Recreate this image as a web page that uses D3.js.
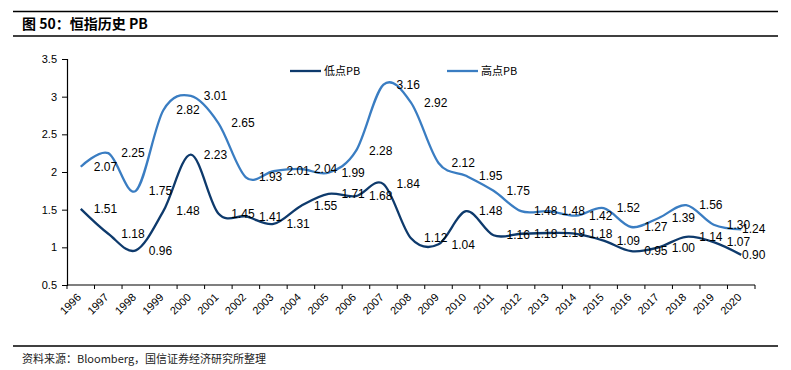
<!DOCTYPE html>
<html>
<head>
<meta charset="utf-8">
<script src="https://cdn.jsdelivr.net/npm/d3@7"></script>
<style>
  body { margin: 0; background: #fff; }
  svg text { font-family: Arial, "Liberation Sans", sans-serif; fill: #000; }
  .cjk { font-family: "Noto Sans CJK SC", sans-serif; }
</style>
</head>
<body>
<div id="chart"></div>
<script>
// 恒指历史 PB, 1996-2020
var years = ["1996","1997","1998","1999","2000","2001","2002","2003","2004","2005","2006","2007","2008",
  "2009","2010","2011","2012","2013","2014","2015","2016","2017","2018","2019","2020"];
var lowPB = [1.51, 1.18, 0.96, 1.48, 2.23, 1.45, 1.41, 1.31, 1.55, 1.71, 1.68, 1.84, 1.12,
  1.04, 1.48, 1.16, 1.18, 1.19, 1.18, 1.09, 0.95, 1.00, 1.14, 1.07, 0.90];
var highPB = [2.07, 2.25, 1.75, 2.82, 3.01, 2.65, 1.93, 2.01, 2.04, 1.99, 2.28, 3.16, 2.92,
  2.12, 1.95, 1.75, 1.48, 1.48, 1.42, 1.52, 1.27, 1.39, 1.56, 1.30, 1.24];
var yTicks = [0.5, 1, 1.5, 2, 2.5, 3, 3.5];

var CHART = {
  config: {
    width: 791,
    height: 370,
    plot: { left: 67, right: 755, top: 59, bottom: 285 },
    lowColor: "#0e3a6c",
    highColor: "#3a7dc2"
  },

  draw: function draw(sel) {
    var c = CHART.config, p = c.plot;
    var svg = d3.select(sel).append("svg")
        .attr("width", c.width)
        .attr("height", c.height);

    // title block and rules
    svg.append("line").attr("x1", 13).attr("x2", 778).attr("y1", 11.5).attr("y2", 11.5)
        .attr("stroke", "#000").attr("stroke-width", 1.3);
    svg.append("line").attr("x1", 13).attr("x2", 778).attr("y1", 36).attr("y2", 36)
        .attr("stroke", "#000").attr("stroke-width", 1.3);
    svg.append("text").attr("class", "cjk")
        .attr("x", 22).attr("y", 29)
        .style("font-size", "14px").style("font-weight", "bold")
        .text("图 50：恒指历史 PB");
    svg.append("line").attr("x1", 13).attr("x2", 778).attr("y1", 346).attr("y2", 346)
        .attr("stroke", "#000").attr("stroke-width", 1.3);
    svg.append("text").attr("class", "cjk")
        .attr("x", 22).attr("y", 363)
        .style("font-size", "11px").style("fill", "#222")
        .text("资料来源：Bloomberg，国信证券经济研究所整理");

    var x = d3.scaleBand().domain(years).range([p.left, p.right]);
    var y = d3.scaleLinear().domain([0.5, 3.5]).range([p.bottom, p.top]);
    var cx = function(i) { return x(years[i]) + x.bandwidth() / 2; };

    // y axis
    var yAxis = svg.append("g")
        .attr("transform", "translate(" + p.left + ",0)")
        .call(d3.axisLeft(y).tickValues(yTicks).tickSize(5).tickPadding(5).tickFormat(function(d) { return d; }));
    yAxis.select(".domain").attr("stroke", "#000").attr("stroke-width", 1.2);
    yAxis.selectAll(".tick line").attr("stroke", "#000");
    yAxis.selectAll("text").style("font-size", "11px").style("font-family", "Arial, 'Liberation Sans', sans-serif");

    // x axis: ticks at band edges
    var edges = years.map(function(d) { return x(d); }).concat([p.right]);
    var xg = svg.append("g");
    xg.append("line").attr("x1", p.left).attr("x2", p.right).attr("y1", p.bottom).attr("y2", p.bottom)
        .attr("stroke", "#000").attr("stroke-width", 1.2);
    xg.selectAll("line.tk").data(edges).enter().append("line").attr("class", "tk")
        .attr("x1", function(d) { return d; }).attr("x2", function(d) { return d; })
        .attr("y1", p.bottom).attr("y2", p.bottom + 4)
        .attr("stroke", "#000");
    xg.selectAll("text").data(years).enter().append("text")
        .attr("transform", function(d, i) { return "translate(" + (cx(i) + 1) + "," + (p.bottom + 13) + ") rotate(-45)"; })
        .attr("text-anchor", "end")
        .style("font-size", "11px")
        .text(function(d) { return d; });

    // smoothed lines
    var line = d3.line()
        .x(function(d, i) { return cx(i); })
        .y(function(d) { return y(d); })
        .curve(d3.curveCardinal.tension(0));

    var series = [
      { name: "低点PB", values: lowPB, color: c.lowColor },
      { name: "高点PB", values: highPB, color: c.highColor }
    ];

    series.forEach(function(s) {
      svg.append("path")
          .datum(s.values)
          .attr("fill", "none")
          .attr("stroke", s.color)
          .attr("stroke-width", 2.3)
          .attr("d", line);
    });

    series.forEach(function(s) {
      svg.append("g").selectAll("text").data(s.values).enter().append("text")
          .attr("x", function(d, i) { return Math.min(cx(i) + 13, p.right - 13); })
          .attr("y", function(d) { return y(d); })
          .attr("dy", "0.35em")
          .style("font-size", "12px")
          .text(function(d) { return d.toFixed(2); });
    });

    // legend
    var legX = [290, 447];
    var leg = svg.append("g").selectAll("g").data(series).enter().append("g")
        .attr("transform", function(d, i) { return "translate(" + legX[i] + ",71)"; });
    leg.append("line").attr("x1", 0).attr("x2", 31).attr("y1", 0).attr("y2", 0)
        .attr("stroke", function(d) { return d.color; }).attr("stroke-width", 2.3);
    leg.append("text").attr("class", "cjk")
        .attr("x", 34).attr("dy", "0.35em")
        .style("font-size", "11px")
        .text(function(d) { return d.name; });
  }
};

CHART.draw("#chart");
</script>
</body>
</html>
